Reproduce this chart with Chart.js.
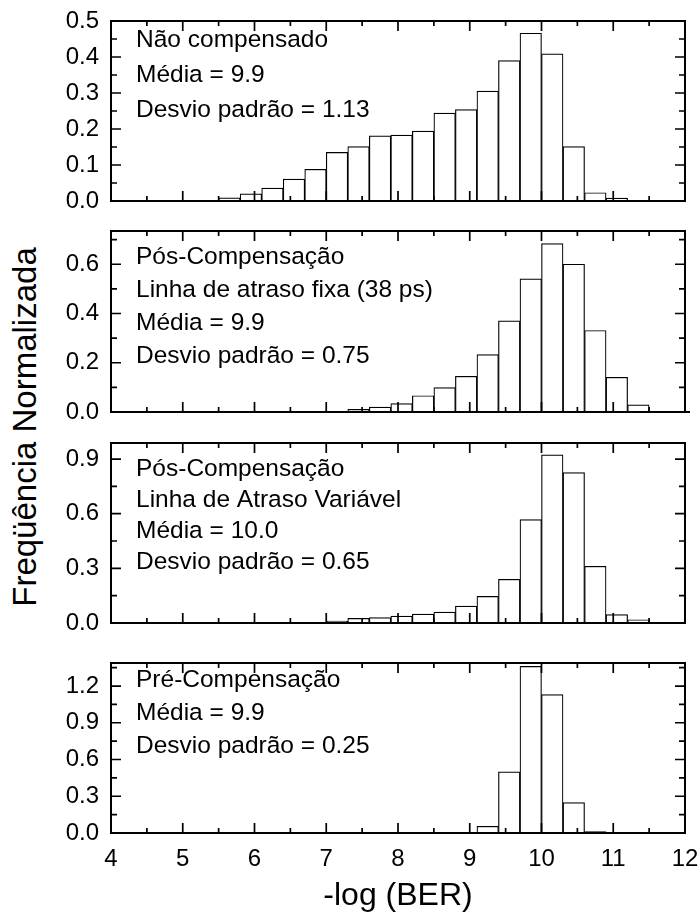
<!DOCTYPE html>
<html>
<head>
<meta charset="utf-8">
<script src="https://cdn.jsdelivr.net/npm/chart.js@4.4.1/dist/chart.umd.min.js"></script>
<style>
body { margin: 0; background: #fff; }
#wrap { position: relative; width: 700px; height: 916px; overflow: hidden; }
#wrap canvas { position: absolute; left: 0; }
#yTitle {
    position: absolute; left: -175px; top: 410px; width: 400px; height: 34px;
    line-height: 34px; text-align: center; white-space: nowrap;
    font-family: "Liberation Sans", Arial, sans-serif; font-size: 33px; color: #000;
    transform: rotate(-90deg);
}
</style>
</head>
<body>
<div id="wrap">
    <div id="yTitle">Freqüência Normalizada</div>
</div>
<script>
//---------- DATA (bins of 0.3 in -log(BER))
var binCenters = [5.35, 5.65, 5.95, 6.25, 6.55, 6.85, 7.15, 7.45, 7.75, 8.05, 8.35,
                  8.65, 8.95, 9.25, 9.55, 9.85, 10.15, 10.45, 10.75, 11.05, 11.35];

var freq_nao_compensado = [0.002, 0.009, 0.020, 0.036, 0.061, 0.088, 0.135, 0.151, 0.181, 0.183, 0.194,
                           0.244, 0.254, 0.305, 0.390, 0.466, 0.409, 0.151, 0.023, 0.008, 0.000];
var freq_pos_fixa       = [0.000, 0.000, 0.000, 0.000, 0.001, 0.001, 0.003, 0.011, 0.020, 0.034, 0.066,
                           0.099, 0.145, 0.233, 0.370, 0.541, 0.684, 0.600, 0.331, 0.141, 0.029];
var freq_pos_variavel   = [0.000, 0.000, 0.000, 0.001, 0.002, 0.004, 0.010, 0.025, 0.030, 0.038, 0.049,
                           0.060, 0.093, 0.146, 0.240, 0.568, 0.923, 0.825, 0.311, 0.046, 0.018];
var freq_pre            = [0.000, 0.000, 0.000, 0.000, 0.000, 0.000, 0.000, 0.000, 0.000, 0.000, 0.001,
                           0.003, 0.006, 0.055, 0.500, 1.360, 1.130, 0.248, 0.011, 0.002, 0.000];

var text_nao_compensado = ['Não compensado', 'Média = 9.9', 'Desvio padrão = 1.13'];
var text_pos_fixa       = ['Pós-Compensação', 'Linha de atraso fixa (38 ps)', 'Média = 9.9', 'Desvio padrão = 0.75'];
var text_pos_variavel   = ['Pós-Compensação', 'Linha de Atraso Variável', 'Média = 10.0', 'Desvio padrão = 0.65'];
var text_pre            = ['Pré-Compensação', 'Média = 9.9', 'Desvio padrão = 0.25'];

// TICKS
var xMajorTicks = [4, 5, 6, 7, 8, 9, 10, 11, 12];
var xMinorTicks = [4.5, 5.5, 6.5, 7.5, 8.5, 9.5, 10.5, 11.5];

var yMajor_nao_compensado = [0, 0.1, 0.2, 0.3, 0.4, 0.5];
var yMinor_nao_compensado = [0.05, 0.15, 0.25, 0.35, 0.45];
var yMajor_pos_fixa       = [0, 0.2, 0.4, 0.6];
var yMinor_pos_fixa       = [0.1, 0.3, 0.5, 0.7];
var yMajor_pos_variavel   = [0, 0.3, 0.6, 0.9];
var yMinor_pos_variavel   = [0.15, 0.45, 0.75];
var yMajor_pre            = [0, 0.3, 0.6, 0.9, 1.2];
var yMinor_pre            = [0.15, 0.45, 0.75, 1.05, 1.35];

var yMax_nao_compensado = 0.5;
var yMax_pos_fixa       = 0.735;
var yMax_pos_variavel   = 0.988;
var yMax_pre            = 1.388;

var xTitle = '-log (BER)';

//---------- LAYOUT
var FONT = '"Liberation Sans", Arial, sans-serif';
var PLOT_LEFT = 111;
var PLOT_RIGHT = 685;
var PAD = 15;

var panels = [
    { data: freq_nao_compensado, text: text_nao_compensado, yMajor: yMajor_nao_compensado, yMinor: yMinor_nao_compensado,
      yMax: yMax_nao_compensado, top: 21,  bottom: 201, textTop: 19, textGap: 35, overhang: 0 },
    { data: freq_pos_fixa, text: text_pos_fixa, yMajor: yMajor_pos_fixa, yMinor: yMinor_pos_fixa,
      yMax: yMax_pos_fixa, top: 231, bottom: 412, textTop: 26, textGap: 33, overhang: 5 },
    { data: freq_pos_variavel, text: text_pos_variavel, yMajor: yMajor_pos_variavel, yMinor: yMinor_pos_variavel,
      yMax: yMax_pos_variavel, top: 443, bottom: 623, textTop: 26, textGap: 31, overhang: 0 },
    { data: freq_pre, text: text_pre, yMajor: yMajor_pre, yMinor: yMinor_pre,
      yMax: yMax_pre, top: 663, bottom: 833, textTop: 17, textGap: 33, overhang: 0 }
];

// FRAME + INWARD TICKS ON ALL FOUR SIDES
var frameTicksPlugin = {
    id: 'frameTicks',
    afterDatasetsDraw: function (chart, args, opts) {
        var ctx = chart.ctx;
        var area = chart.chartArea;
        var xs = chart.scales.x;
        var ys = chart.scales.y;
        ctx.save();
        ctx.strokeStyle = '#000';
        ctx.lineWidth = 1.7;
        ctx.beginPath();
        opts.xMajor.forEach(function (v) {
            var px = xs.getPixelForValue(v);
            ctx.moveTo(px, area.bottom); ctx.lineTo(px, area.bottom - 10);
            ctx.moveTo(px, area.top);    ctx.lineTo(px, area.top + 10);
        });
        opts.xMinor.forEach(function (v) {
            var px = xs.getPixelForValue(v);
            ctx.moveTo(px, area.bottom); ctx.lineTo(px, area.bottom - 5);
            ctx.moveTo(px, area.top);    ctx.lineTo(px, area.top + 5);
        });
        opts.yMajor.forEach(function (v) {
            var py = ys.getPixelForValue(v);
            ctx.moveTo(area.left, py);  ctx.lineTo(area.left + 10, py);
            ctx.moveTo(area.right, py); ctx.lineTo(area.right - 10, py);
        });
        opts.yMinor.forEach(function (v) {
            var py = ys.getPixelForValue(v);
            ctx.moveTo(area.left, py);  ctx.lineTo(area.left + 6, py);
            ctx.moveTo(area.right, py); ctx.lineTo(area.right - 6, py);
        });
        ctx.stroke();
        ctx.lineWidth = 2;
        ctx.strokeRect(area.left, area.top, area.right - area.left, area.bottom - area.top);
        // the bottom axis line sticks out a bit on one panel
        if (opts.overhang) {
            ctx.beginPath();
            ctx.moveTo(area.right, area.bottom);
            ctx.lineTo(area.right + opts.overhang, area.bottom);
            ctx.stroke();
        }
        ctx.restore();
    }
};

// TEXT BLOCK INSIDE EACH PANEL
var panelTextPlugin = {
    id: 'panelText',
    afterDraw: function (chart, args, opts) {
        var ctx = chart.ctx;
        var area = chart.chartArea;
        ctx.save();
        ctx.fillStyle = '#000';
        ctx.font = '24.5px ' + FONT;
        ctx.textAlign = 'left';
        ctx.textBaseline = 'middle';
        opts.lines.forEach(function (line, i) {
            ctx.fillText(line, area.left + 25, area.top + opts.top + i * opts.gap);
        });
        ctx.restore();
    }
};

function buildPanel(p, isLast) {
    var canvas = document.createElement('canvas');
    var canvasTop = p.top - PAD;
    var canvasHeight = isLast ? (916 - canvasTop) : (p.bottom - p.top + 2 * PAD);
    canvas.width = 700;
    canvas.height = canvasHeight;
    canvas.style.top = canvasTop + 'px';
    document.getElementById('wrap').appendChild(canvas);

    var points = [];
    for (var i = 0; i < binCenters.length; i++) {
        points.push({ x: binCenters[i], y: p.data[i] });
    }

    return new Chart(canvas.getContext('2d'), {
        type: 'bar',
        data: {
            datasets: [{
                data: points,
                backgroundColor: '#ffffff',
                borderColor: '#000000',
                borderWidth: 1.2,
                borderSkipped: false,
                barPercentage: 1.0,
                categoryPercentage: 1.0
            }]
        },
        plugins: [frameTicksPlugin, panelTextPlugin],
        options: {
            responsive: false,
            animation: false,
            devicePixelRatio: 1,
            layout: { padding: { top: PAD, bottom: isLast ? 0 : PAD, left: 0, right: 700 - PLOT_RIGHT } },
            plugins: {
                legend: { display: false },
                tooltip: { enabled: false },
                frameTicks: { xMajor: xMajorTicks, xMinor: xMinorTicks, yMajor: p.yMajor, yMinor: p.yMinor, overhang: p.overhang },
                panelText: { lines: p.text, top: p.textTop, gap: p.textGap }
            },
            scales: {
                x: {
                    type: 'linear',
                    min: 4,
                    max: 12,
                    offset: false,
                    display: isLast,
                    afterBuildTicks: function (axis) {
                        axis.ticks = xMajorTicks.map(function (v) { return { value: v }; });
                    },
                    afterFit: function (axis) {
                        if (isLast) axis.height = 916 - p.bottom;
                        axis.paddingLeft = 0;
                        axis.paddingRight = 0;
                    },
                    grid: { display: false, drawTicks: false, offset: false },
                    border: { display: false },
                    ticks: {
                        color: '#000',
                        padding: 12,
                        maxRotation: 0,
                        autoSkip: false,
                        font: { family: FONT, size: 24 }
                    },
                    title: {
                        display: true,
                        text: xTitle,
                        color: '#000',
                        font: { family: FONT, size: 32 },
                        padding: { top: 0, bottom: 1 }
                    }
                },
                y: {
                    min: 0,
                    max: p.yMax,
                    afterBuildTicks: function (axis) {
                        axis.ticks = p.yMajor.map(function (v) { return { value: v }; });
                    },
                    afterFit: function (axis) {
                        axis.width = PLOT_LEFT;
                        axis.paddingTop = 0;
                        axis.paddingBottom = 0;
                    },
                    grid: { display: false, drawTicks: false },
                    border: { display: false },
                    ticks: {
                        color: '#000',
                        padding: 12,
                        font: { family: FONT, size: 24 },
                        callback: function (v) { return Number(v).toFixed(1); }
                    }
                }
            }
        }
    });
}

for (var k = 0; k < panels.length; k++) {
    buildPanel(panels[k], k === panels.length - 1);
}
</script>
</body>
</html>
